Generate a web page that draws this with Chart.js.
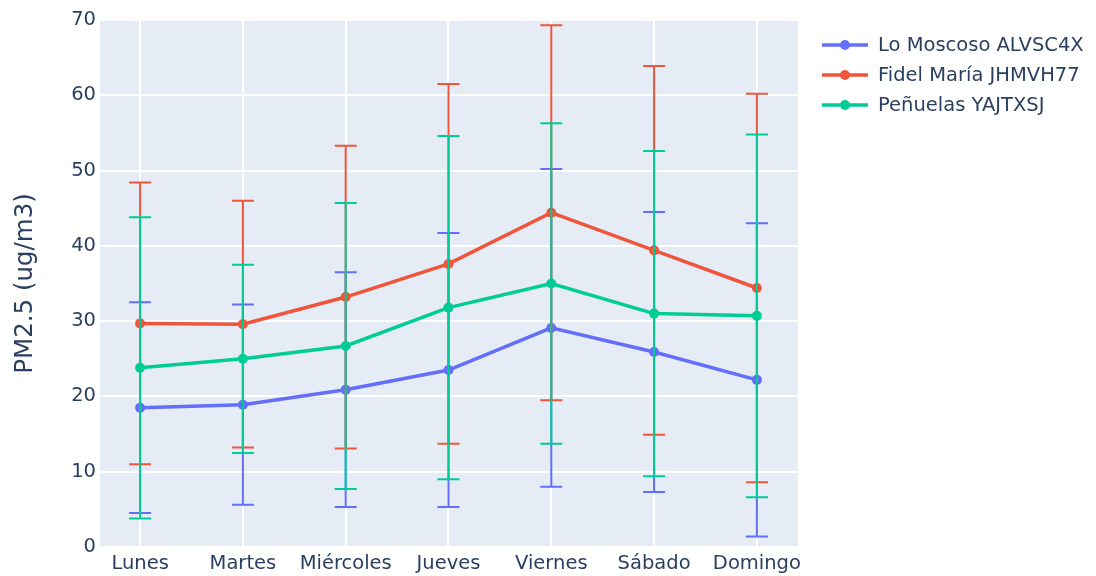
<!DOCTYPE html>
<html>
<head>
<meta charset="utf-8">
<script src="https://cdn.jsdelivr.net/npm/chart.js@4"></script>
<style>
  html, body { margin: 0; padding: 0; background: #ffffff; }
  #wrap { width: 1096px; height: 576px; }
</style>
</head>
<body>
<div id="wrap"><canvas id="c" width="1096" height="576"></canvas></div>
<script>
// Días de la semana (eje X)
const dias = ['Lunes', 'Martes', 'Miércoles', 'Jueves', 'Viernes', 'Sábado', 'Domingo'];

// Promedio diario de PM2.5 por estación
const loMoscosoMedia = [18.5, 18.9, 20.9, 23.5, 29.1, 25.9, 22.2];
const fidelMariaMedia = [29.7, 29.6, 33.2, 37.6, 44.4, 39.4, 34.4];
const penuelasMedia = [23.8, 25.0, 26.7, 31.8, 35.0, 31.0, 30.7];

// Desviación estándar (barras de error simétricas)
const loMoscosoDesv = [14.0, 13.3, 15.6, 18.2, 21.1, 18.6, 20.8];
const fidelMariaDesv = [18.7, 16.4, 20.1, 23.9, 24.9, 24.5, 25.8];
const penuelasDesv = [20.0, 12.5, 19.0, 22.8, 21.3, 21.6, 24.1];

// Marcas del eje Y
const yTicks = [0, 10, 20, 30, 40, 50, 60, 70];

const nombres = ['Lo Moscoso ALVSC4X', 'Fidel María JHMVH77', 'Peñuelas YAJTXSJ'];
const colores = ['#636efa', '#EF553B', '#00cc96'];
const medias = [loMoscosoMedia, fidelMariaMedia, penuelasMedia];
const desvs = [loMoscosoDesv, fidelMariaDesv, penuelasDesv];

const FONT = "'DejaVu Sans', Verdana, sans-serif";
const TEXT = '#2a3f5f';
const SIZE = 19.5;

const datasets = nombres.map((n, k) => ({
  label: n,
  data: medias[k].map((v, i) => ({ x: i, y: v })),
  errors: desvs[k],
  borderColor: colores[k],
  backgroundColor: colores[k],
  borderWidth: 3.5,
  pointRadius: 5,
  pointHoverRadius: 5,
  pointBorderWidth: 0,
  tension: 0,
  order: 3 - k
}));

// Fondo del área de trazado
const plotBg = {
  id: 'plotBg',
  beforeDraw(chart) {
    const a = chart.chartArea, ctx = chart.ctx;
    ctx.save();
    ctx.fillStyle = '#E5ECF6';
    ctx.fillRect(a.left, a.top, a.right - a.left, a.bottom - a.top);
    ctx.restore();
  }
};

// Barras de error (media ± desviación) bajo la línea de cada serie
const errorBars = {
  id: 'errorBars',
  beforeDatasetDraw(chart, args) {
    const ds = chart.data.datasets[args.index];
    const xs = chart.scales.x, ys = chart.scales.y, ctx = chart.ctx;
    const cap = 11;
    ctx.save();
    ctx.strokeStyle = ds.borderColor;
    ctx.lineWidth = 2;
    ds.data.forEach((p, i) => {
      const e = ds.errors[i];
      const px = xs.getPixelForValue(p.x);
      const top = ys.getPixelForValue(p.y + e);
      const bot = ys.getPixelForValue(p.y - e);
      ctx.beginPath();
      ctx.moveTo(px, top); ctx.lineTo(px, bot);
      ctx.moveTo(px - cap, top); ctx.lineTo(px + cap, top);
      ctx.moveTo(px - cap, bot); ctx.lineTo(px + cap, bot);
      ctx.stroke();
    });
    ctx.restore();
  }
};

// Leyenda a la derecha: segmento con marcador y nombre de la estación
const sideLegend = {
  id: 'sideLegend',
  afterDraw(chart) {
    const ctx = chart.ctx;
    const x0 = 822, x1 = 868, tx = 878, y0 = 45, dy = 30;
    ctx.save();
    chart.data.datasets.forEach((ds, k) => {
      const y = y0 + k * dy;
      ctx.strokeStyle = ds.borderColor;
      ctx.lineWidth = 3.5;
      ctx.beginPath(); ctx.moveTo(x0, y); ctx.lineTo(x1, y); ctx.stroke();
      ctx.fillStyle = ds.borderColor;
      ctx.beginPath(); ctx.arc((x0 + x1) / 2, y, 5, 0, Math.PI * 2); ctx.fill();
      ctx.fillStyle = TEXT;
      ctx.font = SIZE + 'px ' + FONT;
      ctx.textBaseline = 'middle';
      ctx.textAlign = 'left';
      ctx.fillText(ds.label, tx, y + 1);
    });
    ctx.restore();
  }
};

new Chart(document.getElementById('c'), {
  type: 'line',
  data: { datasets },
  plugins: [plotBg, errorBars, sideLegend],
  options: {
    responsive: false,
    animation: false,
    events: [],
    layout: { padding: { top: 20, right: 298, left: 0, bottom: 0 } },
    plugins: { legend: { display: false }, tooltip: { enabled: false } },
    scales: {
      x: {
        type: 'linear',
        min: -0.39,
        max: 6.4,
        afterBuildTicks(scale) { scale.ticks = dias.map((_, i) => ({ value: i })); },
        afterFit(scale) { scale.height = 29; },
        ticks: {
          callback: (v) => dias[v],
          color: TEXT,
          font: { family: FONT, size: SIZE },
          padding: 5,
          maxRotation: 0,
          autoSkip: false
        },
        grid: { color: '#ffffff', lineWidth: 2, drawTicks: false },
        border: { display: false }
      },
      y: {
        min: 0,
        max: 70,
        afterBuildTicks(scale) { scale.ticks = yTicks.map(v => ({ value: v })); },
        afterFit(scale) { scale.width = 100; },
        ticks: {
          color: TEXT,
          font: { family: FONT, size: SIZE },
          padding: 4
        },
        grid: { color: '#ffffff', lineWidth: 2, drawTicks: false },
        border: { display: false },
        title: {
          display: true,
          text: 'PM2.5 (ug/m3)',
          color: TEXT,
          font: { family: FONT, size: 24.5 },
          padding: { top: 11, bottom: 0 }
        }
      }
    }
  }
});
</script>
</body>
</html>
